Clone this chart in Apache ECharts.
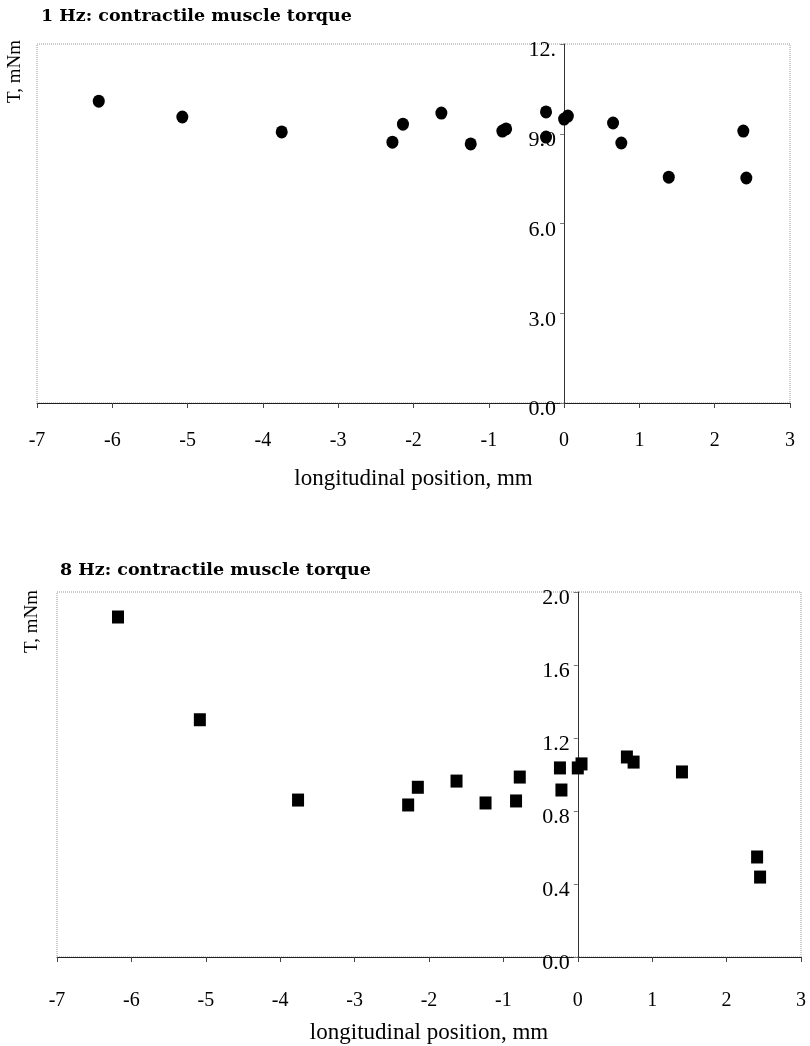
<!DOCTYPE html>
<html>
<head>
<meta charset="utf-8">
<script src="https://cdn.jsdelivr.net/npm/echarts@6/dist/echarts.min.js"></script>
<style>
  html, body { margin: 0; padding: 0; background: #fff; }
  #chart { width: 810px; height: 1046px; }
</style>
</head>
<body>
<div id="chart"></div>
<script>
// ---- data ----
const xTicks = [-7, -6, -5, -4, -3, -2, -1, 0, 1, 2, 3];
const yTicks1Hz = ['0.0', '3.0', '6.0', '9.0', '12.'];
const yTicks8Hz = ['0.0', '0.4', '0.8', '1.2', '1.6', '2.0'];

const pos1Hz = [-6.18, -5.07, -3.75, -2.28, -2.14, -1.63, -1.24, -0.82, -0.77, -0.24, -0.24, 0.00, 0.05, 0.65, 0.76, 1.39, 2.38, 2.42];
const torque1Hz = [10.09, 9.56, 9.06, 8.72, 9.32, 9.69, 8.66, 9.09, 9.16, 9.73, 8.89, 9.49, 9.59, 9.36, 8.69, 7.55, 9.09, 7.52];

const pos8Hz = [-6.18, -5.08, -3.76, -2.28, -2.15, -1.63, -1.24, -0.83, -0.78, -0.24, -0.22, 0.00, 0.05, 0.66, 0.75, 1.40, 2.41, 2.45];
const torque8Hz = [1.863, 1.30, 0.86, 0.833, 0.93, 0.964, 0.844, 0.855, 0.986, 1.036, 0.915, 1.036, 1.058, 1.096, 1.068, 1.014, 0.548, 0.438];

const titles = ['1 Hz: contractile muscle torque', '8 Hz: contractile muscle torque'];
const xName = 'longitudinal position, mm';
const yName = 'T, mNm';

// ---- layout ----
const W = 810;
const layout = [
  { left: 37, right: 20, top: 44, height: 359 },
  { left: 57, right: 9, top: 592, height: 365 }
];
const X_MIN = xTicks[0], X_MAX = xTicks[xTicks.length - 1];

// ---- build ----
const serif = '"Liberation Serif", "Times New Roman", serif';
const titleFont = '"DejaVu Serif", serif';
const zip = (a, b) => a.map((v, i) => [v, b[i]]);
const tickLookup = (ticks, step) => (v) => {
  const i = Math.round(v / step);
  return ticks[i] !== undefined ? ticks[i] : '';
};
// place the y axis on x = 0 (derived from the x scale and grid width)
const zeroOffset = (g) => -((0 - X_MIN) / (X_MAX - X_MIN)) * (W - g.left - g.right);

function xAxisDef(gridIndex, labelMargin, nameGap) {
  return {
    type: 'value', gridIndex, min: X_MIN, max: X_MAX, interval: 1,
    axisLine: { show: true, onZero: false, lineStyle: { color: '#222', width: 1 } },
    axisTick: { show: true, inside: false, length: 5, lineStyle: { color: '#444' } },
    axisLabel: { color: '#000', fontFamily: serif, fontSize: 20, margin: labelMargin },
    splitLine: { show: false },
    name: xName, nameLocation: 'middle', nameGap: nameGap,
    nameTextStyle: { color: '#000', fontFamily: serif, fontSize: 23 }
  };
}
function yAxisDef(gridIndex, max, interval, ticks) {
  return {
    type: 'value', gridIndex, min: 0, max, interval,
    position: 'left', offset: zeroOffset(layout[gridIndex]),
    axisLine: { show: true, onZero: false, lineStyle: { color: '#333', width: 1 } },
    axisTick: { show: true, inside: false, length: 4, lineStyle: { color: '#777' } },
    axisLabel: { color: '#000', fontFamily: serif, fontSize: 22, margin: 8,
      verticalAlign: 'top', lineHeight: 13,
      formatter: tickLookup(ticks, interval) },
    splitLine: { show: false }
  };
}

const gridStyle = { show: true, borderColor: '#999', borderWidth: 1, borderType: 'dotted', backgroundColor: 'transparent' };

const option = {
  animation: false,
  backgroundColor: '#fff',
  title: [
    { text: titles[0], left: 36, top: 2, textStyle: { fontFamily: titleFont, fontSize: 17.5, fontWeight: 'bold', color: '#000' } },
    { text: titles[1], left: 55, top: 556, textStyle: { fontFamily: titleFont, fontSize: 17.5, fontWeight: 'bold', color: '#000' } }
  ],
  grid: layout.map(g => Object.assign({}, g, gridStyle)),
  xAxis: [xAxisDef(0, 28, 64), xAxisDef(1, 34, 64)],
  yAxis: [yAxisDef(0, 12, 3, yTicks1Hz), yAxisDef(1, 2, 0.4, yTicks8Hz)],
  graphic: [
    { type: 'text', left: 6, top: 40, rotation: Math.PI / 2,
      style: { text: yName, font: '19px ' + serif, fill: '#000' } },
    { type: 'text', left: 23, top: 590, rotation: Math.PI / 2,
      style: { text: yName, font: '19px ' + serif, fill: '#000' } }
  ],
  series: [
    { type: 'scatter', xAxisIndex: 0, yAxisIndex: 0, data: zip(pos1Hz, torque1Hz),
      symbol: 'circle', symbolSize: [12, 13], itemStyle: { color: '#000', opacity: 1 } },
    { type: 'scatter', xAxisIndex: 1, yAxisIndex: 1, data: zip(pos8Hz, torque8Hz),
      symbol: 'rect', symbolSize: [12, 13], itemStyle: { color: '#000', opacity: 1 } }
  ]
};

const chart = echarts.init(document.getElementById('chart'), null, { renderer: 'canvas' });
chart.setOption(option);
</script>
</body>
</html>
